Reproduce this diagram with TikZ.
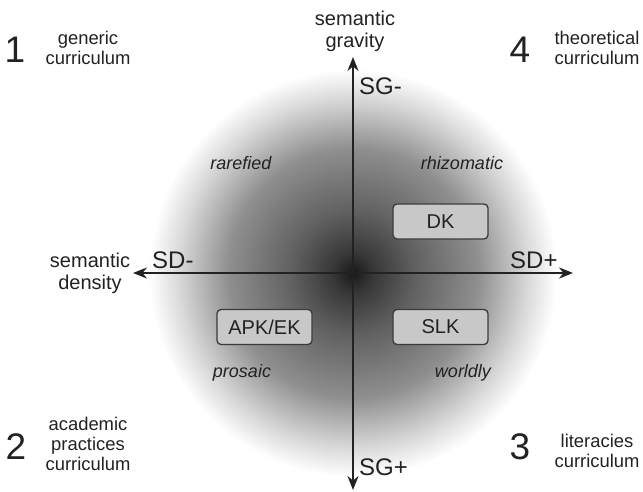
\documentclass[tikz,border=0pt]{standalone}
\usepackage{fontspec}
\setmainfont{Liberation Sans}
\usetikzlibrary{arrows.meta}
\definecolor{ink}{HTML}{222222}
\definecolor{boxfill}{HTML}{C8C8C8}
\definecolor{boxline}{HTML}{3A3A3A}
\pgfdeclareradialshading{discshade}{\pgfpoint{0bp}{0bp}}{color(0bp)=(black!90); color(2.5bp)=(black!78); color(7.5bp)=(black!62); color(15bp)=(black!44); color(21bp)=(black!15); color(24.5bp)=(white); color(50bp)=(white)}
\tikzset{
  axis/.style={line width=1.8pt, draw=ink, -{Stealth[length=14pt,width=11pt]}},
  kbox/.style={draw=boxline, line width=1.3pt, fill=boxfill, rounded corners=4pt, minimum width=95pt, minimum height=35pt, inner sep=0pt, text=ink, font=\fontsize{20}{24}\selectfont},
  digit/.style={text=ink, font=\fontsize{37}{40}\selectfont, inner sep=0pt},
  corner/.style={text=ink, align=center, font=\fontsize{18.4}{20}\selectfont, inner sep=0pt},
  axname/.style={text=ink, align=center, font=\fontsize{20}{22}\selectfont, inner sep=0pt},
  pole/.style={text=ink, font=\fontsize{24}{26}\selectfont, inner sep=0pt},
  quad/.style={text=ink, font=\fontsize{18}{20}\selectfont\itshape, inner sep=0pt}
}
\begin{document}
\begin{tikzpicture}[x=1pt,y=-1pt]
\useasboundingbox (0,0) rectangle (643,492);
\fill[white] (0,0) rectangle (643,492);
\shade[shading=discshade] (353,273) circle (208);
\coordinate (c) at (353,273);
\coordinate (top) at (353,57);
\coordinate (bot) at (353,490);
\coordinate (lft) at (133,273);
\coordinate (rgt) at (573,273);
\draw[axis] (c) -- (top);
\draw[axis] (c) -- (bot);
\draw[axis] (c) -- (lft);
\draw[axis] (c) -- (rgt);
% axis names
\node[axname] (sg) at (355,31) {semantic\\gravity};
\node[axname] (sd) at (90,273) {semantic\\density};
% poles
\node[pole, anchor=base west] (sgm) at (359,95) {SG-};
\node[pole, anchor=base west] (sgp) at (359,475) {SG+};
\node[pole, anchor=base west] (sdm) at (152,268) {SD-};
\node[pole, anchor=base west] (sdp) at (510,268) {SD+};
% boxes
\node[kbox] (dk) at (440.5,221.5) {DK};
\node[kbox] (slk) at (440.5,327) {SLK};
\node[kbox] (apk) at (264.5,327) {APK/EK};
% quadrant words
\node[quad, anchor=base] (rar) at (241,170) {rarefied};
\node[quad, anchor=base] (rhi) at (462,170) {rhizomatic};
\node[quad, anchor=base] (pro) at (242,377) {prosaic};
\node[quad, anchor=base] (wor) at (463,377) {worldly};
% corners
\node[digit] (d1) at (15,50) {1};
\node[corner] (c1) at (88,48) {generic\\curriculum};
\node[digit] (d4) at (520,50) {4};
\node[corner] (c4) at (597,48) {theoretical\\curriculum};
\node[digit] (d2) at (16,447) {2};
\node[corner] (c2) at (88,444) {academic\\practices\\curriculum};
\node[digit] (d3) at (520,447) {3};
\node[corner] (c3) at (597,451) {literacies\\curriculum};
\end{tikzpicture}
\end{document}
